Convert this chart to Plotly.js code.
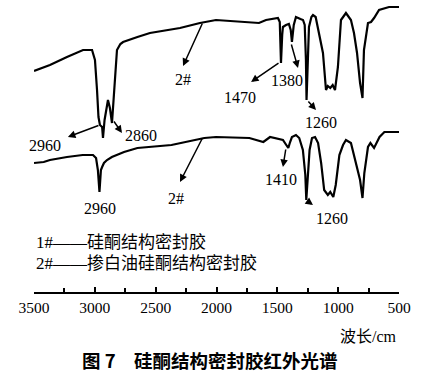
<!DOCTYPE html>
<html><head><meta charset="utf-8">
<script src="https://cdn.plot.ly/plotly-3.0.1.min.js"></script>
<style>html,body{margin:0;padding:0;background:#fff}#c{width:432px;height:375px}</style>
</head><body><div id="c"></div>
<script>
// Wavenumber (cm^-1) and transmittance (arbitrary units, offset curves)
const wn1 = [3500,3369,3229,3097,3023,2999,2982,2970,2958,2940,2933,2920,2892,2876,2859,2845,2834,2818,2790,2768,2650,2547,2300,2136,2004,1850,1700,1651,1593,1495,1480,1470,1460,1454,1429,1405,1390,1380,1365,1347,1310,1289,1275,1265,1260,1252,1240,1220,1207,1185,1158,1125,1100,1085,1065,1045,1026,1002,977,936,895,870,845,820,800,788,755,730,705,664,582,500];
const t1  = [221,227,235,242,242,232,202,175,167,165,154,172,192,184,169,197,219,242,248,250,255,259,264,269,272,271,270,269,272,274,270,229,257,265,267,268,262,250,267,275,273,272,267,232,192,232,265,275,277,275,259,239,202,206,204,207,202,225,272,279,272,259,239,209,194,242,269,270,274,282,285,285];
const wn2 = [3500,3420,3369,3229,3100,3015,2990,2975,2962,2950,2940,2925,2900,2860,2760,2650,2370,2100,2004,1730,1615,1560,1454,1420,1410,1395,1380,1347,1320,1290,1270,1262,1250,1235,1215,1190,1165,1140,1115,1085,1065,1040,1020,990,960,936,895,855,820,800,785,755,735,705,660,620,500];
const t2  = [129,130,132,135,137,137,134,122,100,122,125,129,132,135,140,144,147,154,155,154,150,155,152,146,144,150,155,157,154,142,117,92,117,142,154,155,149,129,102,97,100,95,107,137,147,152,149,129,112,94,119,145,149,144,155,160,160];
const tickVals = [3500,3000,2500,2000,1500,1000,500];
const tickText = ['3500','3000','2500','2000','1500','1000','500'];
// peak labels: [text, label x, label y, arrow-from x, arrow-from y, arrow-to x, arrow-to y]
const peakLabels = [
  ['2960',3410,147, 2958,167, 3221,155],
  ['2860',2621,157, 2851,172, 2777,159],
  ['2#',2275,213, 2111,270, 2275,226],
  ['1470',1807,195, 1478,230, 1716,210],
  ['1380',1421,212, 1388,249, 1330,224],
  ['1260',1141,170, 1256,192, 1182,182],
  ['2960',2958,84, null,null,null,null],
  ['2#',2333,94, 2111,155, 2300,110],
  ['1410',1470,113, 1429,144, 1454,125],
  ['1260',1051,74, 1264,92, 1207,87]
];
const legendLines = ['1#——硅酮结构密封胶','2#——掺白油硅酮结构密封胶'];
const axisTitle = '波长/cm';
const caption = '图 7　硅酮结构密封胶红外光谱';

const serif = "'Liberation Serif', 'Times New Roman', 'Noto Sans CJK SC', serif";
const traces = [
  {x: wn1, y: t1, mode:'lines', line:{color:'#000', width:2.2}, hoverinfo:'skip'},
  {x: wn2, y: t2, mode:'lines', line:{color:'#000', width:2.2}, hoverinfo:'skip'}
];
const ann = [];
peakLabels.forEach(p => {
  ann.push({x:p[1], y:p[2], xref:'x', yref:'y', text:p[0], showarrow:false,
    font:{family:serif, size:16, color:'#000'}});
  if (p[3] !== null) {
    ann.push({x:p[5], y:p[6], ax:p[3], ay:p[4], xref:'x', yref:'y', axref:'x', ayref:'y',
      text:'', showarrow:true, arrowhead:2, arrowsize:1, arrowwidth:1.5, arrowcolor:'#000'});
  }
});
ann.push({xref:'paper', yref:'y', x:0, y:50, xanchor:'left', text:legendLines[0], showarrow:false,
  font:{family:serif, size:17, color:'#000'}});
ann.push({xref:'paper', yref:'y', x:0, y:29, xanchor:'left', text:legendLines[1], showarrow:false,
  font:{family:serif, size:17, color:'#000'}});
ann.push({xref:'paper', yref:'paper', x:1, y:-0.151, xanchor:'right', yanchor:'middle', text:axisTitle, showarrow:false,
  font:{family:serif, size:16, color:'#000'}});
ann.push({xref:'paper', yref:'paper', x:0.482, y:-0.233, xanchor:'center', yanchor:'middle', text:'<b>'+caption+'</b>', showarrow:false,
  font:{family:"'Noto Sans CJK SC', sans-serif", size:18.5, color:'#000'}});

const layout = {
  width:432, height:375, margin:{l:34, r:33, t:0, b:83},
  paper_bgcolor:'#fff', plot_bgcolor:'#fff', showlegend:false,
  xaxis:{range:[3500,500], tickvals:tickVals, ticktext:tickText, ticks:'inside', ticklen:5, tickwidth:2,
    tickcolor:'#000', showline:true, linecolor:'#000', linewidth:2, showgrid:false, zeroline:false,
    minor:{dtick:250, ticks:'inside', ticklen:4, tickwidth:2, tickcolor:'#000', showgrid:false},
    tickfont:{family:serif, size:15.5, color:'#000'}, fixedrange:true},
  yaxis:{range:[0,292], visible:false, fixedrange:true},
  annotations: ann
};
Plotly.newPlot('c', traces, layout, {staticPlot:true, displayModeBar:false});
</script></body></html>
